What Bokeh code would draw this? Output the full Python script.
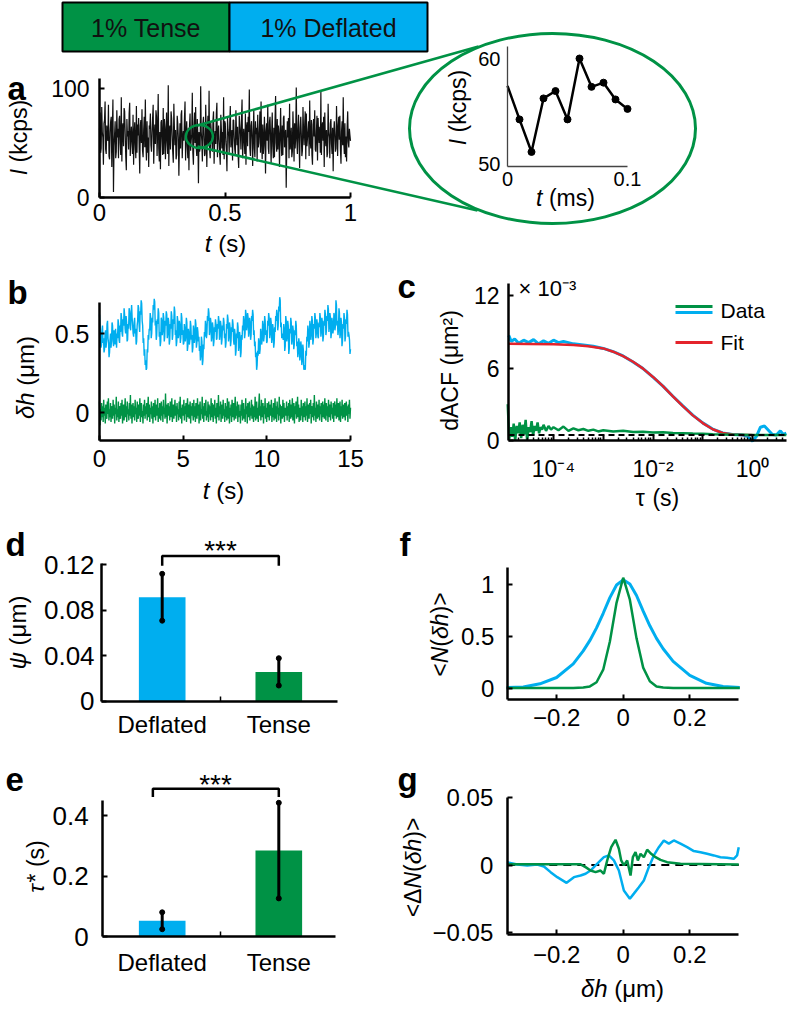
import numpy as np
from bokeh.plotting import figure
from bokeh.models import Range1d, LinearAxis, LogAxis, LogScale, FixedTicker
from bokeh.core.properties import value
from bokeh.embed import file_html
from bokeh.resources import INLINE

# ---------------- data ----------------
banner_labels = ["1% Tense", "1% Deflated"]

# a: photon count rate I (kcps) over 1 s
a_I = [62, 78, 41, 45, 83, 60, 55, 30, 68, 71, 88, 44, 40, 66, 57, 52, 85, 38, 35, 60, 70, 74, 28, 63, 90, 5, 47, 58, 70, 36,
       42, 80, 55, 63, 36, 72, 75, 50, 39, 92, 33, 64, 68, 47, 82, 79, 58, 37, 25, 72, 56, 61, 44, 77, 87, 38, 52, 65, 53, 40,
       76, 30, 58, 69, 48, 36, 84, 41, 67, 57, 73, 45, 22, 66, 71, 50, 81, 43, 37, 62, 74, 46, 90, 50, 34, 70, 41, 55, 28, 66,
       63, 77, 48, 42, 59, 73, 85, 31, 56, 67, 49, 80, 74, 38, 61, 95, 45, 33, 60, 26, 69, 71, 54, 39, 82, 40, 72, 64, 35, 58,
       78, 51, 40, 103, 29, 62, 66, 44, 79, 73, 57, 42, 32, 86, 64, 48, 62, 35, 39, 75, 68, 55, 20, 49, 68, 45, 76, 80, 36, 54,
       61, 52, 73, 88, 34, 57, 70, 47, 36, 64, 25, 66, 77, 43, 52, 58, 96, 41, 30, 65, 78, 50, 83, 46, 38, 72, 55, 13, 60, 42,
       45, 102, 60, 52, 33, 68, 74, 56, 38, 40, 85, 57, 28, 63, 75, 47, 98, 44, 36, 69, 60, 54, 42, 71, 79, 31, 53, 61, 49, 77,
       87, 37, 58, 66, 53, 40, 30, 76, 63, 45, 60, 39, 92, 35, 70, 68, 51, 43, 24, 73, 62, 57, 41, 69, 84, 46, 55, 62, 34, 71,
       71, 55, 44, 39, 80, 62, 48, 65, 38, 27, 75, 66, 58, 44, 73, 90, 36, 51, 63, 52, 40, 77, 30, 64, 69, 47, 74, 60, 99, 45,
       38, 66, 70, 54, 29, 59, 81, 45, 37, 70, 58, 64, 33, 76, 46, 50, 63, 79, 41, 88, 52, 35, 67, 40, 48, 74, 57, 22, 61, 68,
       52, 85, 45, 40, 69, 74, 56, 31, 60, 78, 47, 36, 64, 37, 71, 93, 50, 42, 72, 44, 66, 59, 28, 55, 82, 53, 38, 66, 39, 73,
       75, 46, 57, 62, 9, 48, 70, 55, 73, 36, 86, 44, 49, 64, 37, 42, 79, 60, 33, 68, 45, 57, 101, 52, 40, 63, 76, 51, 27, 64,
       74, 59, 38, 43, 83, 61, 48, 66, 79, 35, 77, 47, 54, 62, 70, 38, 89, 52, 45, 71, 39, 30, 67, 72, 56, 80, 44, 42, 60, 75,
       34, 73, 58, 50, 65, 41, 97, 39, 63, 69, 52, 74, 28, 78, 55, 47, 62, 37, 41, 86, 60, 55, 36, 68, 72, 49, 40, 64, 24, 59,
       70, 58, 42, 45, 84, 62, 38, 66, 74, 53, 75, 44, 31, 61, 70, 48, 92, 50, 40, 68, 37, 56, 33, 65, 79, 51, 46, 63, 57, 52]
a_duration = 1.0

# a inset: zoom of 0.1 ms
inset_t = [0.0, 0.01, 0.02, 0.03, 0.04, 0.05, 0.06, 0.07, 0.08, 0.09, 0.1]
inset_I = [57.4, 54.2, 51.1, 56.2, 56.9, 54.2, 60.0, 57.3, 57.7, 56.1, 55.2]

# b: height fluctuations (um) over 15 s
b_duration = 15.0
b_deflated = [
    0.62, 0.55, 0.50, 0.41, 0.43, 0.52, 0.55, 0.44, 0.47, 0.38, 0.40, 0.49, 0.52, 0.41, 0.45, 0.56, 0.58, 0.47, 0.44, 0.35, 0.38, 0.46, 0.50, 0.41, 0.46, 0.57, 0.55, 0.45, 0.42, 0.52, 0.48, 0.43, 0.53, 0.47,
    0.41, 0.50, 0.47, 0.59, 0.56, 0.46, 0.44, 0.55, 0.51, 0.63, 0.60, 0.50, 0.48, 0.59, 0.55, 0.66, 0.62, 0.53, 0.50, 0.61, 0.57, 0.45, 0.46, 0.56, 0.53, 0.66, 0.64, 0.56, 0.52, 0.63, 0.68, 0.60, 0.55, 0.50,
    0.48, 0.57, 0.60, 0.50, 0.53, 0.43, 0.45, 0.55, 0.58, 0.68, 0.66, 0.55, 0.51, 0.64, 0.62, 0.71, 0.69, 0.58, 0.55, 0.44, 0.47, 0.36, 0.40, 0.30, 0.33, 0.27, 0.28, 0.40, 0.38, 0.49, 0.46, 0.53,
    0.52, 0.63, 0.60, 0.47, 0.50, 0.60, 0.57, 0.68, 0.65, 0.72, 0.70, 0.55, 0.58, 0.46, 0.49, 0.59, 0.56, 0.66, 0.63, 0.48, 0.51, 0.42, 0.45, 0.60, 0.58, 0.49, 0.52, 0.63, 0.60, 0.45, 0.48, 0.58, 0.55, 0.64,
    0.62, 0.47, 0.50, 0.60, 0.57, 0.43, 0.46, 0.56, 0.53, 0.64, 0.61, 0.46, 0.49, 0.59, 0.56, 0.67, 0.64, 0.49, 0.52, 0.42, 0.45, 0.61, 0.58, 0.47, 0.50, 0.58, 0.55, 0.44, 0.47, 0.63, 0.60, 0.49, 0.52, 0.43,
    0.44, 0.56, 0.53, 0.45, 0.48, 0.60, 0.57, 0.39, 0.42, 0.53, 0.50, 0.43, 0.46, 0.58, 0.55, 0.46, 0.49, 0.38, 0.41, 0.55, 0.52, 0.44, 0.47, 0.59, 0.56, 0.41, 0.44, 0.54, 0.51, 0.45, 0.48, 0.39,
    0.42, 0.33, 0.36, 0.48, 0.45, 0.30, 0.33, 0.43, 0.40, 0.51, 0.48, 0.58, 0.55, 0.47, 0.50, 0.61, 0.58, 0.66, 0.63, 0.49, 0.52, 0.60, 0.57, 0.45, 0.48, 0.57, 0.54, 0.42, 0.45, 0.54, 0.51, 0.59, 0.56, 0.46,
    0.47, 0.56, 0.53, 0.61, 0.58, 0.46, 0.49, 0.58, 0.55, 0.43, 0.46, 0.55, 0.52, 0.60, 0.57, 0.47, 0.50, 0.41, 0.44, 0.56, 0.53, 0.62, 0.59, 0.45, 0.48, 0.57, 0.54, 0.42, 0.45, 0.54, 0.51, 0.59, 0.56, 0.46,
    0.43, 0.53, 0.50, 0.36, 0.39, 0.50, 0.47, 0.57, 0.54, 0.39, 0.42, 0.51, 0.48, 0.35, 0.38, 0.49, 0.46, 0.55, 0.52, 0.61, 0.58, 0.47, 0.50, 0.65, 0.62, 0.52, 0.55, 0.63, 0.60, 0.48, 0.51, 0.60, 0.57, 0.46,
    0.49, 0.61, 0.58, 0.65, 0.62, 0.49, 0.52, 0.42, 0.45, 0.35, 0.38, 0.27, 0.30, 0.39, 0.36, 0.47, 0.44, 0.37, 0.40, 0.53, 0.50, 0.43, 0.46, 0.58, 0.55, 0.45, 0.48, 0.61, 0.58, 0.49, 0.52, 0.44,
    0.45, 0.58, 0.55, 0.63, 0.60, 0.47, 0.50, 0.60, 0.57, 0.44, 0.47, 0.56, 0.53, 0.41, 0.44, 0.54, 0.51, 0.61, 0.58, 0.65, 0.62, 0.52, 0.55, 0.67, 0.64, 0.73, 0.71, 0.54, 0.57, 0.47, 0.50, 0.49, 0.46, 0.56,
    0.53, 0.39, 0.42, 0.61, 0.58, 0.45, 0.48, 0.58, 0.55, 0.37, 0.40, 0.53, 0.50, 0.60, 0.57, 0.43, 0.46, 0.55, 0.52, 0.40, 0.43, 0.52, 0.49, 0.58, 0.55, 0.42, 0.45, 0.35, 0.38, 0.47, 0.44, 0.33, 0.36, 0.45,
    0.42, 0.30, 0.33, 0.43, 0.40, 0.27, 0.30, 0.29, 0.27, 0.39, 0.36, 0.48, 0.45, 0.55, 0.52, 0.41, 0.44, 0.58, 0.55, 0.46, 0.49, 0.61, 0.58, 0.43, 0.46, 0.56, 0.53, 0.63, 0.60, 0.47, 0.50, 0.59, 0.56, 0.48,
    0.47, 0.57, 0.54, 0.63, 0.60, 0.48, 0.51, 0.60, 0.57, 0.45, 0.48, 0.58, 0.55, 0.65, 0.62, 0.49, 0.52, 0.61, 0.58, 0.68, 0.65, 0.51, 0.54, 0.63, 0.60, 0.47, 0.50, 0.60, 0.57, 0.50, 0.53, 0.63,
    0.61, 0.52, 0.55, 0.71, 0.68, 0.55, 0.58, 0.49, 0.52, 0.66, 0.63, 0.47, 0.50, 0.60, 0.57, 0.42, 0.45, 0.56, 0.53, 0.63, 0.60, 0.45, 0.48, 0.59, 0.56, 0.65, 0.62, 0.48, 0.51, 0.49, 0.46, 0.37, 0.40]
b_tense = [
    0.07, -0.08, 0.02, -0.05, 0.06, -0.03, 0.04, -0.06, 0.08, -0.02, 0.03, -0.07, 0.05, 0.00, -0.04, 0.07, -0.01, 0.09, -0.05, 0.02, -0.03, 0.06, -0.06, 0.04, 0.01, -0.04, 0.08, -0.02, 0.05, -0.07,
    0.03, -0.01, 0.10, -0.05, 0.02, -0.03, 0.07, -0.06, 0.04, 0.00, -0.04, 0.06, -0.02, 0.08, -0.07, 0.03, 0.05, -0.05, 0.01, 0.09, -0.03, 0.04, -0.06, 0.07, -0.01, 0.02, -0.05, 0.06, -0.02, 0.11,
    -0.04, 0.05, -0.07, 0.02, 0.06, -0.03, 0.04, -0.05, 0.08, -0.01, 0.03, -0.06, 0.07, 0.00, -0.04, 0.05, -0.02, 0.09, -0.06, 0.03, 0.06, -0.03, 0.01, -0.07, 0.05, -0.02, 0.08, -0.04, 0.04, -0.01,
    0.06, -0.05, 0.02, 0.10, -0.03, 0.05, -0.06, 0.03, -0.01, 0.07, -0.04, 0.04, -0.07, 0.06, 0.01, -0.03, 0.08, -0.05, 0.02, 0.05, -0.02, 0.09, -0.06, 0.03, -0.04, 0.06, 0.00, -0.05, 0.07, -0.02,
    0.04, -0.06, 0.08, -0.01, 0.03, -0.04, 0.12, -0.03, 0.05, -0.07, 0.02, 0.06, -0.02, 0.04, -0.05, 0.07, 0.00, -0.03, 0.09, -0.06, 0.03, 0.05, -0.04, 0.01, 0.08, -0.02, 0.04, -0.06, 0.06, -0.01,
    0.02, -0.05, 0.07, -0.03, 0.10, -0.04, 0.03, -0.07, 0.05, 0.01, -0.02, 0.08, -0.05, 0.04, -0.01, 0.06, -0.06, 0.03, 0.09, -0.03, 0.05, -0.04, 0.02, 0.07, -0.07, 0.04, -0.02, 0.06, 0.00, -0.05,
    0.08, -0.03, 0.04, -0.06, 0.06, 0.01, -0.04, 0.09, -0.02, 0.05, -0.07, 0.03, 0.07, -0.05, 0.02, -0.01, 0.10, -0.04, 0.04, -0.06, 0.06, -0.02, 0.03, 0.08, -0.05, 0.01, -0.03, 0.07, -0.06, 0.05,
    -0.01, 0.04, -0.05, 0.09, -0.03, 0.06, 0.00, -0.06, 0.05, -0.02, 0.08, -0.04, 0.03, -0.07, 0.06, 0.02, -0.03, 0.11, -0.05, 0.04, -0.01, 0.07, -0.06, 0.03, 0.05, -0.04, 0.08, -0.02, 0.02, -0.06,
    0.06, -0.03, 0.04, -0.05, 0.09, 0.01, -0.04, 0.07, -0.07, 0.03, -0.02, 0.05, -0.06, 0.08, 0.00, -0.03, 0.06, -0.05, 0.02, 0.10, -0.04, 0.04, -0.02, 0.07, -0.06, 0.03, 0.05, -0.03, 0.01, -0.07,
    0.05, -0.02, 0.08, -0.05, 0.03, 0.06, -0.04, 0.02, -0.06, 0.09, -0.01, 0.04, -0.07, 0.06, 0.01, -0.03, 0.07, -0.05, 0.03, -0.02, 0.08, -0.04, 0.05, 0.00, -0.06, 0.04, -0.03, 0.10, -0.05, 0.02,
    0.07, -0.04, 0.03, -0.06, 0.05, 0.12, -0.02, 0.04, -0.05, 0.08, -0.03, 0.02, 0.06, -0.07, 0.04, -0.01, 0.09, -0.04, 0.03, -0.06, 0.06, 0.00, -0.03, 0.07, -0.05, 0.02, 0.05, -0.02, 0.08, -0.06,
    0.03, -0.03, 0.06, -0.05, 0.01, 0.09, -0.04, 0.04, -0.06, 0.07, -0.01, 0.03, -0.05, 0.10, -0.02, 0.05, -0.07, 0.04, 0.02, -0.04, 0.08, -0.03, 0.06, -0.06, 0.03, 0.00, -0.02, 0.07, -0.05, 0.04,
    -0.02, 0.06, -0.06, 0.08, 0.01, -0.04, 0.05, -0.03, 0.09, -0.05, 0.03, 0.06, -0.07, 0.04, -0.01, 0.07, -0.04, 0.02, 0.10, -0.03, 0.05, -0.06, 0.03, 0.01, -0.05, 0.08, -0.02, 0.04, -0.06, 0.06,
    0.00, -0.03, 0.07, -0.05, 0.04, -0.02, 0.09, -0.06, 0.03, 0.05, -0.04, 0.06, -0.01, 0.08, -0.07, 0.02, 0.04, -0.03, 0.06, -0.05, 0.11, -0.02, 0.03, -0.06, 0.07, 0.01, -0.04, 0.05, -0.03, 0.08,
    -0.05, 0.04, -0.01, 0.06, -0.06, 0.03, 0.07, -0.03, 0.05, -0.04, 0.09, 0.00, -0.05, 0.06, -0.02, 0.04, -0.06, 0.08, 0.02, -0.03, 0.05, -0.05, 0.07, -0.01, 0.03, -0.04, 0.06, -0.06, 0.04, 0.07,
    -0.02, 0.05, -0.04, 0.09, -0.03, 0.03, 0.06, -0.05, 0.01, 0.07, -0.06, 0.04, -0.02, 0.08, -0.04, 0.05, 0.00, -0.03, 0.06, -0.05, 0.03, 0.07, -0.02, 0.04, -0.06, 0.05, -0.01, 0.08, -0.04, 0.03]

# c: dACF (x 1e-3 um^2) vs log10(tau / s)
c_blue_log10tau = [-4.9, -4.85, -4.78, -4.7, -4.6, -4.5, -4.4, -4.3, -4.2, -4.1,
                   -4.0, -3.9, -3.8, -3.6, -3.4, -3.2, -3.0, -2.8, -2.6, -2.4,
                   -2.2, -2.0, -1.8, -1.6, -1.4, -1.2, -1.0, -0.8, -0.6, -0.4,
                   -0.2, -0.1, 0.0, 0.08, 0.16, 0.24, 0.32, 0.4, 0.48, 0.56, 0.62, 0.68]
c_blue = [8.7, 8.2, 8.4, 8.05, 8.3, 8.1, 8.35, 8.0, 8.25, 8.05,
          8.3, 8.1, 8.2, 8.0, 7.9, 7.8, 7.62, 7.35, 7.0, 6.5,
          5.95, 5.25, 4.5, 3.66, 2.86, 2.1, 1.46, 0.95, 0.62, 0.5,
          0.45, 0.35, -0.05, 0.35, 1.1, 1.2, 0.85, 0.5, 0.45, 0.8, 0.5, 0.6]
c_fit_log10tau = [-4.9, -4.5, -4.0, -3.6, -3.3, -3.0, -2.8, -2.6, -2.4, -2.2, -2.0,
                  -1.8, -1.6, -1.4, -1.2, -1.0, -0.8, -0.6, -0.4, -0.2, 0.0]
c_fit = [8.0, 7.99, 7.96, 7.9, 7.8, 7.62, 7.35, 6.98, 6.52, 5.95, 5.26,
         4.5, 3.66, 2.84, 2.08, 1.44, 0.93, 0.62, 0.5, 0.46, 0.45]
c_green_log10tau = [-4.92, -4.89, -4.86, -4.83, -4.8, -4.77, -4.74, -4.71, -4.68, -4.65,
                    -4.62, -4.59, -4.56, -4.53, -4.5, -4.47, -4.44, -4.41, -4.38, -4.35,
                    -4.32, -4.29, -4.26, -4.23, -4.2, -4.15, -4.1, -4.05, -4.0,
                    -3.9, -3.8, -3.7, -3.6, -3.5, -3.4, -3.3, -3.2, -3.1, -3.0,
                    -2.8, -2.6, -2.4, -2.2, -2.0, -1.8, -1.6, -1.4, -1.2, -1.0,
                    -0.8, -0.6, -0.4, -0.2, 0.0, 0.2, 0.4, 0.68]
c_green = [3.0, 0.1, 1.1, 0.3, 1.4, 0.0, 1.2, 0.6, 1.5, 0.2,
           1.3, 0.5, 1.7, 0.0, 1.1, 0.7, 1.6, 0.4, 1.2, 0.8,
           1.5, 0.6, 1.1, 0.9, 1.3, 0.8, 1.2, 0.9, 1.1,
           0.85, 1.15, 0.8, 1.0, 0.85, 0.95, 0.8, 0.9, 0.75, 0.85,
           0.75, 0.8, 0.7, 0.72, 0.66, 0.68, 0.62, 0.6, 0.57, 0.55,
           0.52, 0.5, 0.48, 0.47, 0.46, 0.46, 0.45, 0.45]
c_baseline = 0.45

# d, e: bar charts
bar_categories = ["Deflated", "Tense"]
d_psi = [0.0912, 0.0256]
d_err = [0.0206, 0.0120]
e_tau = [0.052, 0.284]
e_err = [0.028, 0.158]

# f: normalised height distributions
f_blue_x = [-0.35, -0.3, -0.25, -0.2, -0.15, -0.12, -0.1, -0.08, -0.06, -0.04, -0.02, 0.0,
            0.02, 0.04, 0.06, 0.08, 0.1, 0.12, 0.15, 0.2, 0.25, 0.3, 0.35]
f_blue = [0.008, 0.015, 0.045, 0.105, 0.235, 0.36, 0.46, 0.58, 0.72, 0.87, 0.99, 1.04,
          1.0, 0.89, 0.74, 0.6, 0.48, 0.38, 0.26, 0.125, 0.05, 0.02, 0.01]
f_green_x = [-0.35, -0.15, -0.12, -0.1, -0.08, -0.06, -0.04, -0.02, 0.0,
             0.02, 0.04, 0.06, 0.08, 0.1, 0.12, 0.15, 0.35]
f_green = [0.005, 0.005, 0.01, 0.02, 0.06, 0.18, 0.45, 0.82, 1.06,
           0.85, 0.48, 0.2, 0.07, 0.02, 0.01, 0.005, 0.005]

# g: deviation from fitted distribution
g_blue_x = [-0.348, -0.318, -0.288, -0.258, -0.238, -0.218, -0.198, -0.17, -0.148, -0.128,
            -0.113, -0.098, -0.083, -0.068, -0.058, -0.043, -0.028, -0.013, 0.002, 0.02,
            0.032, 0.047, 0.062, 0.077, 0.092, 0.107, 0.122, 0.137, 0.152, 0.172,
            0.192, 0.212, 0.232, 0.252, 0.272, 0.292, 0.312, 0.332, 0.342, 0.347]
g_blue = [0.002, 0.0004, -0.0003, 0.0004, -0.0011, -0.0053, -0.009, -0.0132, -0.009, -0.0078,
          -0.0065, -0.0041, -0.0003, 0.0034, 0.0058, 0.0071, 0.0034, -0.0041, -0.0189, -0.025,
          -0.0212, -0.0164, -0.0115, -0.0016, 0.0071, 0.0132, 0.0182, 0.0158, 0.0182, 0.0158,
          0.0132, 0.0103, 0.0095, 0.0083, 0.0071, 0.0058, 0.0054, 0.0046, 0.0071, 0.0132]
g_green_x = [-0.348, -0.128, -0.113, -0.098, -0.083, -0.068, -0.058, -0.048, -0.036, -0.023,
             -0.013, -0.006, 0.002, 0.012, 0.022, 0.029, 0.037, 0.044, 0.052, 0.062,
             0.072, 0.084, 0.097, 0.112, 0.132, 0.172, 0.347]
g_green = [0.0005, 0.0005, -0.0016, -0.0041, -0.0053, -0.0041, -0.0065, 0.0034, 0.0132, 0.0187,
           0.012, 0.0034, -0.0003, 0.0034, -0.0078, 0.0058, 0.0095, 0.0034, 0.0083, 0.0058,
           0.0113, 0.0083, 0.0058, 0.0038, 0.0021, 0.0009, 0.0004]

# ---------------- styling / layout ----------------
FONT = "Liberation Sans"
GREEN, BLUE, RED = "#009245", "#00aeef", "#e4232b"
FX0, FX1, FY0, FY1 = 0, 788, 0, 1009   # frame in page pixels


def hr(v1, p1, v2, p2):
    s = (p2 - p1) / (v2 - v1)
    return (v1 + (FX0 - p1) / s, v1 + (FX1 - p1) / s)


def vr(v1, p1, v2, p2):
    s = (p2 - p1) / (v2 - v1)
    return (v1 + (FY1 - p1) / s, v1 + (FY0 - p1) / s)


xr = {
    "a": Range1d(*hr(0, 99, 1, 350)),
    "ai": Range1d(*hr(0, 507, 0.1, 627)),
    "b": Range1d(*hr(0, 99, 15, 350)),
    "d": Range1d(*hr(1, 161.7, 2, 278.3)),
    "e": Range1d(*hr(1, 161.7, 2, 278.3)),
    "f": Range1d(*hr(0, 622.7, 0.2, 689.3)),
    "g": Range1d(*hr(0, 622.7, 0.2, 689.3)),
}
cl = hr(-4, 553, 0, 752)
xr["c"] = Range1d(10 ** cl[0], 10 ** cl[1])
yr = {
    "a": Range1d(*vr(0, 197, 100, 88)),
    "ai": Range1d(*vr(50, 163, 60, 58)),
    "b": Range1d(*vr(0, 412, 0.5, 333)),
    "c": Range1d(*vr(0, 440, 12, 295)),
    "d": Range1d(*vr(0, 700.5, 0.12, 564)),
    "e": Range1d(*vr(0, 936, 0.4, 815)),
    "f": Range1d(*vr(0, 688, 1, 583.5)),
    "g": Range1d(*vr(0, 864.5, 0.05, 797)),
}

p = figure(width=FX1 - FX0, height=FY1 - FY0, x_range=Range1d(FX0, FX1), y_range=Range1d(FY1, FY0),
           x_axis_location=None, y_axis_location=None, toolbar_location=None,
           output_backend="svg", min_border=0, outline_line_color=None,
           extra_x_ranges=xr, extra_y_ranges=yr, extra_x_scales={"c": LogScale()})
p.background_fill_color = "white"
p.border_fill_color = "white"
p.grid.visible = False


def axis(name, side, fixed, bounds, ticks, labels, size, standoff, color="black",
         lw=2.5, tick_in=5, minor=None, log=False):
    cls = LogAxis if log else LinearAxis
    ax = cls(x_range_name=name, y_range_name=name, fixed_location=fixed, bounds=bounds,
             ticker=FixedTicker(ticks=ticks, minor_ticks=minor or []),
             major_label_overrides={t: l for t, l in zip(ticks, labels)},
             major_label_text_font=FONT, major_label_text_font_size=size,
             major_label_text_color="black", major_label_standoff=standoff,
             axis_line_color=color, axis_line_width=lw,
             major_tick_line_color=color, major_tick_line_width=2,
             major_tick_in=tick_in, major_tick_out=0,
             minor_tick_line_color=color if minor else None, minor_tick_line_width=1.5,
             minor_tick_in=3 if log else 5, minor_tick_out=0)
    p.add_layout(ax, side)
    return ax


W_EM = {'t': 0.278, ' ': 0.278, '(': 0.333, ')': 0.333, 's': 0.5, 'm': 0.833, 'I': 0.278,
        'k': 0.5, 'c': 0.5, 'p': 0.556, 'δ': 0.556, 'h': 0.556, 'μ': 0.576, 'τ': 0.45,
        'ψ': 0.72, '*': 0.389, '<': 0.584, '>': 0.584, 'N': 0.722, 'Δ': 0.668, 'd': 0.556,
        'A': 0.667, 'C': 0.722, 'F': 0.611, '²': 0.333}


def tw(s, size):
    return sum(W_EM.get(ch, 0.556) for ch in s) * size


def rich(segs, cx, cy, size, vertical=False):
    total = sum(tw(t, size) for t, _ in segs)
    off = -total / 2
    for t, it in segs:
        lead = len(t) - len(t.lstrip(" "))
        off += tw(" " * lead, size)
        body = t.strip(" ")
        if vertical:
            x, y, ang = cx, cy - off, np.pi / 2
        else:
            x, y, ang = cx + off, cy, 0.0
        p.text(x=[x], y=[y], text=[body], angle=ang, text_align="left", text_baseline="middle",
               text_font=value(FONT), text_font_size=f"{size}px",
               text_font_style="italic" if it else "normal", text_color="black")
        off += tw(body, size)


def label(txt, x, y, size, align="left", baseline="middle", style="normal", color="black", **kw):
    p.text(x=[x], y=[y], text=[txt], text_align=align, text_baseline=baseline,
           text_font=value(FONT), text_font_size=f"{size}px", text_font_style=style,
           text_color=color, **kw)


# ---------------- banner ----------------
p.quad(left=[62, 229], right=[229, 427], top=[2, 2], bottom=[51, 51],
       fill_color=[GREEN, BLUE], line_color="black", line_width=2)
label(banner_labels[0], 145.5, 27, 25, align="center", color="#111111")
label(banner_labels[1], 328, 27, 25, align="center", color="#111111")

# ---------------- panel a ----------------
a_t = np.linspace(0, a_duration, len(a_I))
p.line(a_t, a_I, x_range_name="a", y_range_name="a", line_color="#111111", line_width=1.2)
p.ellipse(x=[0.398], y=[56], width=[27], height=[23], width_units="screen", height_units="screen",
          fill_color=None, line_color=GREEN, line_width=2.5, x_range_name="a", y_range_name="a")
axis("a", "below", 0, (0, 1), [0, 0.5, 1], ["0", "0.5", "1"], "24px", 6)
axis("a", "left", 0, (0, 109), [0, 100], ["0", "100"], "23px", 10)
rich([("t", True), (" (s)", False)], 225, 243, 24)
rich([("I", True), (" (kcps)", False)], 18, 137, 23, vertical=True)

# lens
p.ellipse(x=[552], y=[128], width=[286], height=[190], width_units="screen", height_units="screen",
          fill_color=None, line_color=GREEN, line_width=3)
p.segment(x0=[197, 197], y0=[125, 146], x1=[478, 477], y1=[46, 210], line_color=GREEN, line_width=2.5)

# inset
p.line(inset_t, inset_I, x_range_name="ai", y_range_name="ai", line_color="black", line_width=2.5)
p.scatter(inset_t[1:], inset_I[1:], x_range_name="ai", y_range_name="ai", marker="circle",
          size=7, fill_color="black", line_color="black")
axis("ai", "below", 49.7, (0, 0.1), [0, 0.1], ["0", "0.1"], "20px", 5, color="#444444", lw=1.3, tick_in=0)
axis("ai", "left", 0, (49.7, 61.1), [50, 60], ["50", "60"], "20px", 7, color="#444444", lw=1.3, tick_in=0)
rich([("t", True), (" (ms)", False)], 565, 197, 23)
rich([("I", True), (" (kcps)", False)], 457, 107, 23, vertical=True)

# ---------------- panel b ----------------
p.line(np.linspace(0, b_duration, len(b_deflated)), b_deflated, x_range_name="b", y_range_name="b",
       line_color=BLUE, line_width=1.4)
p.line(np.linspace(0, b_duration, len(b_tense)), b_tense, x_range_name="b", y_range_name="b",
       line_color=GREEN, line_width=1.4)
axis("b", "below", -0.177, (0, 15), [0, 5, 10, 15], ["0", "5", "10", "15"], "24px", 10)
axis("b", "left", 0, (-0.177, 0.696), [0, 0.5], ["0", "0.5"], "25px", 10)
rich([("t", True), (" (s)", False)], 223, 490, 24)
rich([("δh", True), (" (μm)", False)], 25, 377, 24, vertical=True)

# ---------------- panel c ----------------
c_lo, c_hi = 10 ** -4.9045, 10 ** 0.683
p.line(10 ** np.array(c_blue_log10tau), c_blue, x_range_name="c", y_range_name="c",
       line_color=BLUE, line_width=3)
p.line(10 ** np.array(c_fit_log10tau), c_fit, x_range_name="c", y_range_name="c",
       line_color=RED, line_width=2.5)
p.line(10 ** np.array(c_green_log10tau), c_green, x_range_name="c", y_range_name="c",
       line_color=GREEN, line_width=2.5)
p.line([c_lo, c_hi], [c_baseline, c_baseline], x_range_name="c", y_range_name="c",
       line_color="black", line_width=2, line_dash="6 4")
c_minor = [k * 10.0 ** d for d in range(-5, 1) for k in range(2, 10) if c_lo < k * 10.0 ** d < c_hi]
axis("c", "below", 0, (c_lo, c_hi), [1e-4, 1e-3, 1e-2, 1e-1, 1.0],
     ["10⁻⁴", "", "10⁻²", "", "10⁰"], "23px", 15, minor=c_minor, log=True, tick_in=5)
axis("c", "left", c_lo, (0, 13), [0, 6, 12], ["0", "6", "12"], "23px", 9)
rich([("τ", False), (" (s)", False)], 657, 497, 23)
rich([("dACF (μm²)", False)], 449, 370, 23, vertical=True)
label("× 10⁻³", 518, 288, 22)
p.segment(x0=[675, 675, 675], y0=[306, 312, 342], x1=[712, 712, 712], y1=[306, 312, 342],
          line_color=[GREEN, BLUE, RED], line_width=3)
label("Data", 720, 310, 21)
label("Fit", 720, 342, 21)

# ---------------- panels d, e ----------------
cat_x = [1, 2]
for name, vals, errs, ytk, ylab, ybound, xb, brk, ystand, xstand in [
        ("d", d_psi, d_err, [0, 0.04, 0.08, 0.12], ["0", "0.04", "0.08", "0.12"], 0.121, (0.48, 2.5),
         (1.0, 2.0, 0.1275, 0.119), 7, 10),
        ("e", e_tau, e_err, [0, 0.2, 0.4], ["0", "0.2", "0.4"], 0.45, (0.49, 2.49),
         (0.92, 2.0, 0.4885, 0.461), 14, 12)]:
    p.vbar(x=cat_x, top=vals, width=0.4, bottom=0, fill_color=[BLUE, GREEN], line_color=None,
           x_range_name=name, y_range_name=name)
    lo = [v - e for v, e in zip(vals, errs)]
    hi = [v + e for v, e in zip(vals, errs)]
    p.segment(x0=cat_x, y0=lo, x1=cat_x, y1=hi, line_color="black", line_width=3,
              x_range_name=name, y_range_name=name)
    p.scatter(cat_x * 2, lo + hi, marker="circle", size=5, fill_color="black", line_color="black",
              x_range_name=name, y_range_name=name)
    x0, x1, ytop, yend = brk
    p.line([x0, x0, x1, x1], [yend, ytop, ytop, yend], line_color="black", line_width=2.5,
           x_range_name=name, y_range_name=name)
    axis(name, "below", 0, xb, cat_x, bar_categories, "24px", xstand, tick_in=0, minor=[1.5])
    axis(name, "left", xb[0], (0, ybound), ytk, ylab, "26px", ystand)

# significance stars above the brackets
label("***", 220, 550, 28, align="center", baseline="alphabetic")
label("***", 215, 784, 28, align="center", baseline="alphabetic")

rich([("ψ", True), (" (μm)", False)], 17, 632, 24, vertical=True)
rich([("τ", True), ("* (s)", False)], 35, 866, 23, vertical=True)

# ---------------- panel f ----------------
p.line(f_blue_x, f_blue, x_range_name="f", y_range_name="f", line_color=BLUE, line_width=3)
p.line(f_green_x, f_green, x_range_name="f", y_range_name="f", line_color=GREEN, line_width=2.5)
axis("f", "below", -0.109, (-0.348, 0.347), [-0.2, 0, 0.2], ["−0.2", "0", "0.2"], "24px", 9)
axis("f", "left", -0.348, (-0.109, 1.16), [0, 0.5, 1], ["0", "0.5", "1"], "24px", 13)
rich([("<", False), ("N", True), ("(", False), ("δh", True), (")>", False)], 439, 634, 23, vertical=True)

# ---------------- panel g ----------------
p.line([-0.348, 0.347], [0, 0], x_range_name="g", y_range_name="g", line_color="black",
       line_width=2, line_dash="8 6")
p.line(g_blue_x, g_blue, x_range_name="g", y_range_name="g", line_color=BLUE, line_width=2.5)
p.line(g_green_x, g_green, x_range_name="g", y_range_name="g", line_color=GREEN, line_width=2.5)
axis("g", "below", -0.0515, (-0.348, 0.347), [-0.2, 0, 0.2], ["−0.2", "0", "0.2"], "24px", 11)
axis("g", "left", -0.348, (-0.0515, 0.05), [-0.05, 0, 0.05], ["−0.05", "0", "0.05"], "24px", 14)
rich([("<Δ", False), ("N", True), ("(", False), ("δh", True), (")>", False)], 412, 867, 23, vertical=True)
rich([("δh", True), (" (μm)", False)], 622, 988, 24)

# ---------------- panel letters ----------------
for letter, lx, ly in [("a", 7, 88), ("b", 7, 292), ("c", 397, 286), ("d", 5, 544),
                       ("e", 5, 779), ("f", 399, 544), ("g", 397, 779)]:
    label(letter, lx, ly, 33, baseline="alphabetic", style="bold")

open("out.html", "w").write(file_html(p, INLINE))
